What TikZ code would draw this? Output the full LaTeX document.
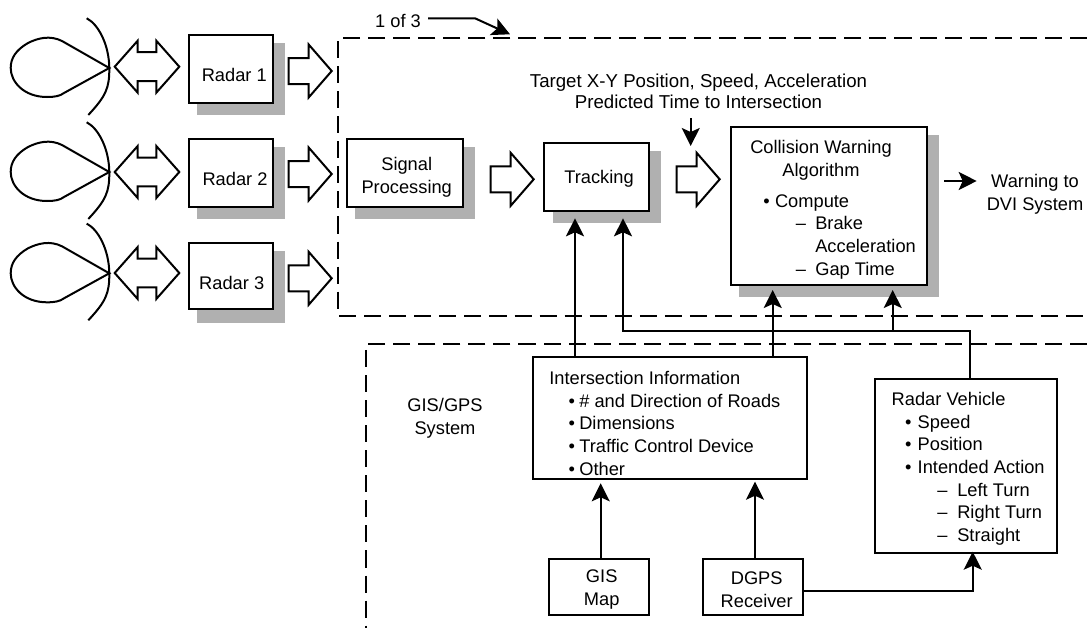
\documentclass[tikz,border=0pt]{standalone}
\usepackage{fontspec}
\setmainfont{Liberation Sans}
\usetikzlibrary{arrows.meta,shapes.arrows}
\def\px{0.75pt}
\def\bull#1#2{\hspace*{#1}\makebox[#2][l]{\textbullet}}
\def\dashitem#1#2{\hspace*{#1}\makebox[#2][l]{--}}
\def\antenna(#1){
	\draw[outline, shift={(0,#1)}] (109.3,0) -- (62,-27) .. controls (50,-33) and (38,-30) .. (28,-25) .. controls (16,-18) and (10.7,-10) .. (10.7,0) .. controls (10.7,14) and (24,29) .. (47,29) .. controls (55,29) and (60,28) .. (64,25) -- cycle;
	\draw[outline, shift={(0,#1)}] (86.7,-49.7) .. controls (98,-44) and (109,-24) .. (109.3,0) .. controls (109.5,20) and (106,28) .. (88.3,47);
}
\tikzset{
	outline/.style={line width=1.5pt},
	region/.style={line width=1.5pt, dash pattern=on 12.8pt off 6pt},
	backing/.style={fill=black!31},
	box/.style={draw, fill=white, line width=1.5pt, inner sep=0pt, outer sep=0pt},
	caption/.style={inner sep=0pt, outer sep=0pt, align=center},
	listing/.style={inner sep=0pt, outer sep=0pt, align=left, anchor=west},
	flow/.style={line width=1.5pt, -{Stealth[length=13.5pt, width=13.5pt, inset=3pt]}},
	fatarrow/.style={single arrow, draw, fill=white, line width=1.5pt, anchor=tip, inner xsep=0pt, inner ysep=9pt, outer sep=0pt, minimum height=43*\px, minimum width=51*\px, single arrow head extend=10.1pt, single arrow tip angle=98},
	twinarrow/.style={double arrow, draw, fill=white, line width=1.5pt, inner xsep=0pt, inner ysep=10.1pt, outer sep=0pt, minimum height=64.6*\px, minimum width=50*\px, double arrow head extend=8.6pt, double arrow tip angle=97},
	every node/.append style={font=\fontsize{13.7}{17}\selectfont},
}
\begin{document}
\begin{tikzpicture}[x=0.75pt, y=-0.75pt]
	%%%%% START %%%%%
	\useasboundingbox (0,0) rectangle (1087,628);

	\draw[region] (1087,38) -- (338,38) -- (338,315.7) -- (1087,315.7);
	\draw[region] (1087,344) -- (366,344) -- (366,628);

	\antenna(68);
	\antenna(172);
	\antenna(273.3);

	\node[twinarrow] (radarLinkA) at (147,66.7) {};
	\node[twinarrow] (radarLinkB) at (147,172) {};
	\node[twinarrow] (radarLinkC) at (147,273) {};

	\fill[backing] (197,43) rectangle (285,114.7);
	\fill[backing] (197,147) rectangle (285,218.7);
	\fill[backing] (197,251) rectangle (285,322.7);
	\fill[backing] (355,147) rectangle (475,218.7);
	\fill[backing] (553.3,151) rectangle (661,222.7);
	\fill[backing] (739,135) rectangle (939,296.7);

	\node[box, minimum width=84.3*\px, minimum height=68*\px] (radarA) at (230.85,68.7) {};
	\node[box, minimum width=84.3*\px, minimum height=68.3*\px] (radarB) at (230.85,172.85) {};
	\node[box, minimum width=84.3*\px, minimum height=65.7*\px] (radarC) at (230.85,275.85) {};
	\node[caption] (radarAtext) at (234.3,75) {Radar 1};
	\node[caption] (radarBtext) at (235,179) {Radar 2};
	\node[caption] (radarCtext) at (231.7,282.7) {Radar 3};

	\node[fatarrow] (radarOutA) at (331.7,71) {};
	\node[fatarrow] (radarOutB) at (331.7,174) {};
	\node[fatarrow] (radarOutC) at (331.7,278.3) {};

	\node[box, minimum width=116.6*\px, minimum height=68.3*\px] (signal) at (405,172.85) {};
	\node[caption] (signalText) at (406.7,177) {Signal\\Processing};
	\node[fatarrow] (signalOut) at (533.7,179.3) {};

	\node[box, minimum width=105*\px, minimum height=68.3*\px] (tracking) at (596.8,176.85) {};
	\node[caption] (trackingText) at (599,178.7) {Tracking};
	\node[fatarrow] (trackingOut) at (719.7,179.3) {};

	\node[box, minimum width=196.3*\px, minimum height=157.7*\px] (collision) at (829.15,205.85) {};
	\node[caption] (collisionTitle) at (821,160) {Collision Warning\\Algorithm};
	\node[listing] (collisionList) at (763.3,236.7) {\bull{0pt}{8.8pt}Compute\\\dashitem{24.5pt}{14.5pt}Brake\\\hspace*{39pt}Acceleration\\\dashitem{24.5pt}{14.5pt}Gap Time};

	\node[caption] (oneOfThree) at (398,20.7) {1 of 3};
	\node[caption, font=\fontsize{14}{16}\selectfont] (targetText) at (698.5,91.5) {Target X-Y Position, Speed, Acceleration\\Predicted Time to Intersection};
	\node[caption] (warningText) at (1035,194) {Warning to\\DVI System};
	\node[caption] (gisGroup) at (445,418) {GIS/GPS\\System};

	\node[box, minimum width=274.6*\px, minimum height=122.3*\px] (info) at (670,417.85) {};
	\node[listing] (infoList) at (549.3,423.3) {Intersection Information\\\bull{14.4pt}{8.1pt}\# and Direction of Roads\\\bull{14.4pt}{8.1pt}Dimensions\\\bull{14.4pt}{8.1pt}Traffic Control Device\\\bull{14.4pt}{8.1pt}Other};

	\node[box, minimum width=182.3*\px, minimum height=173.7*\px] (vehicle) at (966.15,465.85) {};
	\node[listing] (vehicleList) at (891.7,468.7) {Radar Vehicle\\\bull{10pt}{9.5pt}Speed\\\bull{10pt}{9.5pt}Position\\\bull{10pt}{9.5pt}Intended Action\\\dashitem{34.2pt}{15pt}Left Turn\\\dashitem{34.2pt}{15pt}Right Turn\\\dashitem{34.2pt}{15pt}Straight};

	\node[box, minimum width=100*\px, minimum height=56*\px] (gisMap) at (599,587) {};
	\node[caption] (gisMapText) at (601.7,589.5) {GIS\\Map};
	\node[box, minimum width=100.6*\px, minimum height=56*\px] (dgps) at (753,587) {};
	\node[caption] (dgpsText) at (756.7,589.5) {DGPS\\Receiver};

	\coordinate (trackInA) at (575,218.3);
	\coordinate (trackInB) at (623,218.3);
	\coordinate (collisionInA) at (772.7,290);
	\coordinate (collisionInB) at (892.7,290);
	\coordinate (busCorner) at (970,331);
	\coordinate (infoInA) at (600.7,483.3);
	\coordinate (infoInB) at (755,481.7);
	\coordinate (vehicleIn) at (972.7,551.7);
	\coordinate (dropStart) at (690.7,118);
	\coordinate (dropEnd) at (690.7,146);
	\coordinate (warnStart) at (944,181);
	\coordinate (warnEnd) at (976.7,181);
	\coordinate (sheetStart) at (428,18.3);
	\coordinate (sheetBend) at (475,18.3);
	\coordinate (sheetEnd) at (510,34.3);

	\draw[flow] (info.north -| trackInA) -- (trackInA);
	\draw[flow] (info.north -| collisionInA) -- (collisionInA);
	\draw[flow] (vehicle.north -| busCorner) -- (busCorner) -- (busCorner -| trackInB) -- (trackInB);
	\draw[flow] (busCorner -| collisionInB) -- (collisionInB);
	\draw[flow] (gisMap.north -| infoInA) -- (infoInA);
	\draw[flow] (dgps.north -| infoInB) -- (infoInB);
	\draw[flow] (dgps.east |- 0,590.7) -- (vehicleIn |- 0,590.7) -- (vehicleIn);
	\draw[flow] (dropStart) -- (dropEnd);
	\draw[flow] (warnStart) -- (warnEnd);
	\draw[flow] (sheetStart) -- (sheetBend) -- (sheetEnd);

	%%%%% END %%%%%
\end{tikzpicture}
\end{document}
